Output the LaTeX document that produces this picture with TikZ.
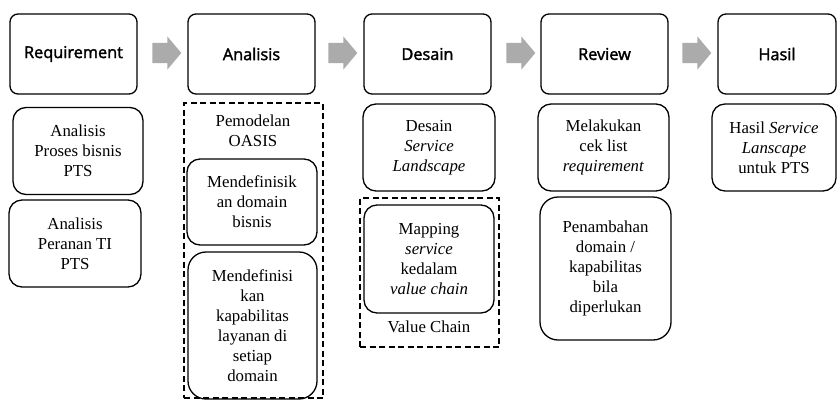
\documentclass[tikz,border=0pt]{standalone}
\usepackage{fontspec}
\setmainfont{Liberation Serif}
\newfontfamily\hdrf[FakeBold=2]{Open Sans}
\usetikzlibrary{shapes.arrows}
\begin{document}
\begin{tikzpicture}[x=1pt,y=-1pt,
  hdr/.style={draw, line width=1.3pt, rounded corners=8pt, minimum width=127pt, minimum height=80pt, inner sep=0pt, font=\hdrf\fontsize{16.3}{19}\selectfont},
  sub/.style={draw, line width=1.3pt, rounded corners=13pt, inner sep=0pt, align=center, font=\fontsize{16.8}{20}\selectfont},
  txt/.style={inner sep=0pt, align=center, font=\fontsize{16.8}{20}\selectfont},
  grp/.style={draw, line width=1.3pt, dash pattern=on 6pt off 3.5pt, inner sep=0pt},
  blk/.style={single arrow, fill=black!33, draw=none, inner xsep=0pt, inner ysep=10pt, minimum height=29pt, single arrow head extend=6.5pt, single arrow tip angle=100, single arrow head indent=0pt}
]
\useasboundingbox (0,0) rectangle (837,402);
% header boxes
\node[hdr] (h1) at (73.5,54) {Requirement};
\node[hdr] (h2) at (251.5,54) {Analisis};
\node[hdr] (h3) at (427.5,54) {Desain};
\node[hdr] (h4) at (604.5,54) {Review};
\node[hdr, minimum width=118pt] (h5) at (777,54) {Hasil};
% block arrows
\node[blk] (a1) at (162.5,53) {};
\node[blk] (a2) at (338.5,53) {};
\node[blk] (a3) at (516.5,53) {};
\node[blk] (a4) at (692.5,53) {};
% requirement column
\node[sub, minimum width=130pt, minimum height=87pt] (r1) at (78,151) {Analisis\\Proses bisnis\\PTS};
\node[sub, minimum width=132pt, minimum height=87pt] (r2) at (75,243.5) {Analisis\\Peranan TI\\PTS};
% analisis column
\node[grp, minimum width=139pt, minimum height=295pt] (g1) at (253.5,250.5) {};
\node[txt] (t1) at (253,131) {Pemodelan\\OASIS};
\node[sub, minimum width=130pt, minimum height=86pt] (an1) at (252,202) {Mendefinisik\\an domain\\bisnis};
\node[sub, rounded corners=18pt, minimum width=129pt, minimum height=147pt] (an2) at (252.5,325.5) {Mendefinisi\\kan\\kapabilitas\\layanan di\\setiap\\domain};
% desain column
\node[sub, minimum width=132pt, minimum height=87pt] (d1) at (429,147.5) {Desain\\\textit{Service}\\\textit{Landscape}};
\node[grp, minimum width=139pt, minimum height=149pt] (g2) at (429.5,272.5) {};
\node[sub, minimum width=130pt, minimum height=108pt] (d2) at (429,259) {Mapping\\\textit{service}\\kedalam\\\textit{value chain}};
\node[txt] (t2) at (429,327) {Value Chain};
% review column
\node[sub, minimum width=131pt, minimum height=87pt] (v1) at (603.5,147.5) {Melakukan\\cek list\\\textit{requirement}};
\node[sub, rounded corners=18pt, minimum width=131pt, minimum height=143pt] (v2) at (605.5,268.5) {Penambahan\\domain /\\kapabilitas\\bila\\diperlukan};
% hasil column
\node[sub, minimum width=124pt, minimum height=87pt] (s1) at (774,147.5) {Hasil \textit{Service}\\\textit{Lanscape}\\untuk PTS};
\end{tikzpicture}
\end{document}
